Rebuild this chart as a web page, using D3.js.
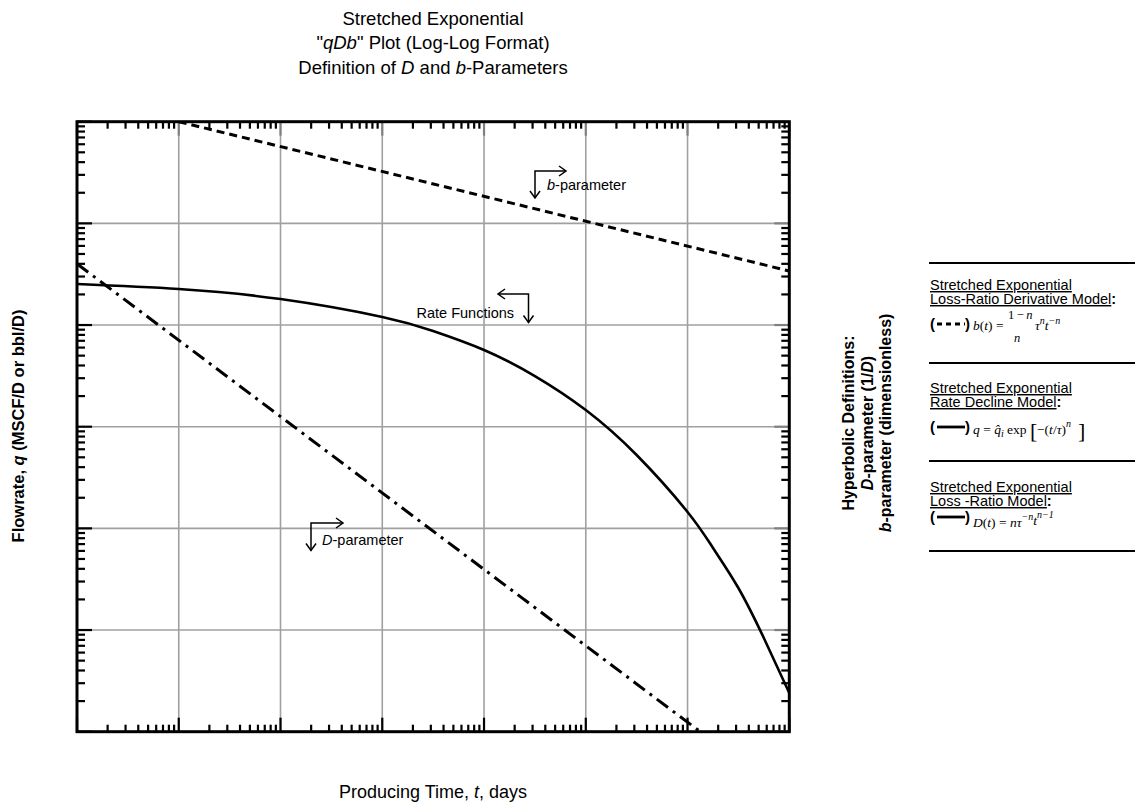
<!DOCTYPE html>
<html>
<head>
<meta charset="utf-8">
<script src="https://cdn.jsdelivr.net/npm/d3@7"></script>
<style>
  body { margin: 0; background: #fff; }
  svg { display: block; }
</style>
</head>
<body>
<svg id="chart" width="1135" height="803"></svg>
<script>
// ---- data (producing time in days, log-log) ----
const xDomain = [1, 1e7];
const yDomain = [1, 1e6];

// rate decline curve q(t)
const rateTime  = [1, 10, 100, 1e3, 3.16e3, 1e4, 3.16e4, 1e5, 3.16e5, 1e6, 1.78e6, 3.16e6, 5.62e6, 1e7];
const rateValue = [2.53e4, 2.26e4, 1.80e4, 1.20e4, 8.73e3, 5.68e3, 3.15e3, 1.46e3, 527, 145, 64.1, 25.9, 8.35, 2.40];

// loss-ratio derivative b(t)
const bTime  = [10, 1e7];
const bValue = [1.0e6, 3.4e4];

// loss-ratio D(t)
const dTime  = [1, 1e7];
const dValue = [4.0e4, 0.22];

const titleLines = [
  [["Stretched Exponential", false]],
  [["\"", false], ["qDb", true], ["\" Plot (Log-Log Format)", false]],
  [["Definition of ", false], ["D", true], [" and ", false], ["b", true], ["-Parameters", false]]
];

// ---- layout ----
const svg = d3.select("#chart");
const plot = { left: 77, right: 789.3, top: 121.7, bottom: 731.7 };
const x = d3.scaleLog().domain(xDomain).range([plot.left, plot.right]);
const y = d3.scaleLog().domain(yDomain).range([plot.bottom, plot.top]);
const sans = "'Liberation Sans', Arial, sans-serif";
const serif = "'Liberation Serif', 'Times New Roman', serif";

// titles
titleLines.forEach((parts, i) => {
  const t = svg.append("text")
    .attr("x", 433).attr("y", 24.5 + i * 24.5)
    .attr("text-anchor", "middle")
    .attr("font-family", sans).attr("font-size", 18.5).attr("fill", "#000");
  parts.forEach(([s, it]) => t.append("tspan").text(s).attr("font-style", it ? "italic" : "normal"));
});

// decade values for grid and ticks
function tickValues(domain) {
  const out = [];
  const k0 = Math.round(Math.log10(domain[0])), k1 = Math.round(Math.log10(domain[1]));
  for (let k = k0; k < k1; k++) for (let m = 1; m <= 9; m++) out.push({ v: m * Math.pow(10, k), major: m === 1 });
  out.push({ v: Math.pow(10, k1), major: true });
  return out;
}
const xt = tickValues(xDomain), yt = tickValues(yDomain);

// gridlines
const grid = svg.append("g").attr("stroke", "#a0a0a0").attr("stroke-width", 1.6);
xt.filter(d => d.major && d.v > xDomain[0] && d.v < xDomain[1]).forEach(d =>
  grid.append("line").attr("x1", x(d.v)).attr("x2", x(d.v)).attr("y1", plot.top).attr("y2", plot.bottom));
yt.filter(d => d.major && d.v > yDomain[0] && d.v < yDomain[1]).forEach(d =>
  grid.append("line").attr("y1", y(d.v)).attr("y2", y(d.v)).attr("x1", plot.left).attr("x2", plot.right));

// inward ticks on all four sides
const ticks = svg.append("g").attr("stroke", "#000").attr("stroke-width", 2.2);
xt.forEach(d => {
  const L = d.major ? 14 : 7;
  ticks.append("line").attr("x1", x(d.v)).attr("x2", x(d.v)).attr("y1", plot.bottom).attr("y2", plot.bottom - L);
  ticks.append("line").attr("x1", x(d.v)).attr("x2", x(d.v)).attr("y1", plot.top).attr("y2", plot.top + L)
    .attr("stroke", d.major ? "#808080" : "#000");
});
yt.forEach(d => {
  const L = d.major ? 15 : 8;
  ticks.append("line").attr("y1", y(d.v)).attr("y2", y(d.v)).attr("x1", plot.left).attr("x2", plot.left + L);
  ticks.append("line").attr("y1", y(d.v)).attr("y2", y(d.v)).attr("x1", plot.right).attr("x2", plot.right - L)
    .attr("stroke", d.major ? "#808080" : "#000");
});

// curves
svg.append("clipPath").attr("id", "plotClip").append("rect")
  .attr("x", plot.left).attr("y", plot.top)
  .attr("width", plot.right - plot.left).attr("height", plot.bottom - plot.top);
const curves = svg.append("g").attr("clip-path", "url(#plotClip)").attr("fill", "none").attr("stroke", "#000");
const straight = d3.line().x(d => x(d[0])).y(d => y(d[1]));
const smooth = d3.line().x(d => x(d[0])).y(d => y(d[1])).curve(d3.curveNatural);

curves.append("path").datum(d3.zip(rateTime, rateValue)).attr("d", smooth).attr("stroke-width", 2.6);
curves.append("path").datum(d3.zip(bTime, bValue)).attr("d", straight)
  .attr("stroke-width", 3).attr("stroke-dasharray", "8,5");
curves.append("path").datum(d3.zip(dTime, dValue)).attr("d", straight)
  .attr("stroke-width", 3).attr("stroke-dasharray", "14,6,3,6");

// frame
svg.append("rect").attr("x", plot.left).attr("y", plot.top)
  .attr("width", plot.right - plot.left).attr("height", plot.bottom - plot.top)
  .attr("fill", "none").attr("stroke", "#000").attr("stroke-width", 3);

// elbow arrows with labels
function elbow(cx, cy, hx, vy) {
  const g = svg.append("g").attr("stroke", "#000").attr("stroke-width", 1.5).attr("fill", "none");
  g.append("path").attr("d", `M${hx},${cy}H${cx}V${vy}`);
  const dir = Math.sign(hx - cx);
  g.append("path").attr("d", `M${hx - dir * 7},${cy - 5}L${hx},${cy}L${hx - dir * 7},${cy + 5}`);
  g.append("path").attr("d", `M${cx - 5},${vy - 7}L${cx},${vy}L${cx + 5},${vy - 7}`);
}
function label(xp, yp, parts, size) {
  const t = svg.append("text").attr("x", xp).attr("y", yp)
    .attr("font-family", sans).attr("font-size", size || 14.5).attr("fill", "#000");
  parts.forEach(([s, it]) => t.append("tspan").text(s).attr("font-style", it ? "italic" : "normal"));
}
elbow(535, 171, 566, 198);
label(547, 190, [["b", true], ["-parameter", false]]);
elbow(528.5, 294, 498, 322.5);
label(416.5, 317.5, [["Rate Functions", false]]);
elbow(311, 523, 343, 550.5);
label(322, 544.5, [["D", true], ["-parameter", false]]);

// axis titles
svg.append("text").attr("x", 433).attr("y", 798).attr("text-anchor", "middle")
  .attr("font-family", sans).attr("font-size", 18)
  .call(t => { t.append("tspan").text("Producing Time, "); t.append("tspan").text("t").attr("font-style", "italic"); t.append("tspan").text(", days"); });

svg.append("text").attr("transform", "translate(24,426) rotate(-90)").attr("text-anchor", "middle")
  .attr("font-family", sans).attr("font-size", 16.5).attr("font-weight", "bold")
  .call(t => { t.append("tspan").text("Flowrate, "); t.append("tspan").text("q").attr("font-style", "italic"); t.append("tspan").text(" (MSCF/D or bbl/D)"); });

const rightLines = [
  [["Hyperbolic Definitions:", false]],
  [["D", true], ["-parameter (1/", false], ["D", true], [")", false]],
  [["b", true], ["-parameter (dimensionless)", false]]
];
rightLines.forEach((parts, i) => {
  const t = svg.append("text").attr("transform", `translate(${854 + i * 18.5},423) rotate(-90)`)
    .attr("text-anchor", "middle").attr("font-family", sans).attr("font-size", 16).attr("font-weight", "bold");
  parts.forEach(([s, it]) => t.append("tspan").text(s).attr("font-style", it ? "italic" : "normal"));
});

// model legend
const legend = svg.append("g");
[263, 363, 461, 551].forEach(yy =>
  legend.append("line").attr("x1", 929).attr("x2", 1135).attr("y1", yy).attr("y2", yy)
    .attr("stroke", "#000").attr("stroke-width", 2));

const legendHeads = [
  { y: 290, name: "Loss-Ratio Derivative Model" },
  { y: 393, name: "Rate Decline Model" },
  { y: 492, name: "Loss -Ratio Model" }
];
legendHeads.forEach(h => {
  legend.append("text").attr("x", 930).attr("y", h.y).attr("font-family", sans).attr("font-size", 14.5)
    .attr("text-decoration", "underline").text("Stretched Exponential");
  const t = legend.append("text").attr("x", 930).attr("y", h.y + 14).attr("font-family", sans).attr("font-size", 14.5);
  t.append("tspan").attr("text-decoration", "underline").text(h.name);
  t.append("tspan").attr("font-weight", "bold").text(":");
});

function keySample(yy, dashed) {
  legend.append("text").attr("x", 930).attr("y", yy + 5).attr("font-family", sans).attr("font-size", 15)
    .attr("font-weight", "bold").text("(");
  legend.append("text").attr("x", 965).attr("y", yy + 5).attr("font-family", sans).attr("font-size", 15)
    .attr("font-weight", "bold").text(")");
  legend.append("line").attr("x1", 937).attr("x2", 965).attr("y1", yy).attr("y2", yy)
    .attr("stroke", "#000").attr("stroke-width", 2.8).attr("stroke-dasharray", dashed ? "5,4" : null);
}
function mathText(xp, yp, parts, size) {
  const t = legend.append("text").attr("x", xp).attr("y", yp).attr("font-family", serif).attr("font-size", size || 13.5);
  parts.forEach(p => {
    const s = t.append("tspan").text(p.s).attr("font-style", p.i ? "italic" : "normal");
    if (p.dy) s.attr("dy", p.dy);
    if (p.dx) s.attr("dx", p.dx);
    if (p.fs) s.attr("font-size", p.fs);
  });
  return t;
}
// b(t) = (1-n)/n tau^n t^-n
keySample(324, true);
mathText(973, 330, [{ s: "b", i: true }, { s: "(" }, { s: "t", i: true }, { s: ") =" }]);
mathText(1008, 319, [{ s: "1\u2009\u2212\u2009" }, { s: "n", i: true }], 12.5);
mathText(1014, 342, [{ s: "n", i: true }], 12.5);
mathText(1035, 330, [{ s: "\u03c4", i: true }, { s: "n", i: true, dy: -6, fs: 10 }, { s: "t", i: true, dy: 6 }, { s: "\u2212n", i: true, dy: -6, fs: 10 }]);

// q = q_i exp[-(t/tau)^n]
keySample(427, false);
mathText(973, 434, [{ s: "q", i: true }, { s: " = " }, { s: "q\u0302", i: true }, { s: "i", i: true, dy: 3, fs: 10 }, { s: " exp", dy: -3 }]);
mathText(1030, 438, [{ s: "[" }], 22);
mathText(1037, 434, [{ s: "\u2212(" }, { s: "t", i: true }, { s: "/" }, { s: "\u03c4", i: true }, { s: ")" }, { s: "n", i: true, dy: -7, fs: 10 }]);
mathText(1078, 438, [{ s: "]" }], 22);

// D(t) = n tau^-n t^n-1
keySample(517, false);
mathText(973, 527, [{ s: "D", i: true }, { s: "(" }, { s: "t", i: true }, { s: ") = " }, { s: "n\u03c4", i: true }, { s: "\u2212n", i: true, dy: -7, fs: 10 }, { s: "t", i: true, dy: 5 }, { s: "n\u22121", i: true, dy: -7, fs: 10 }]);
</script>
</body>
</html>
